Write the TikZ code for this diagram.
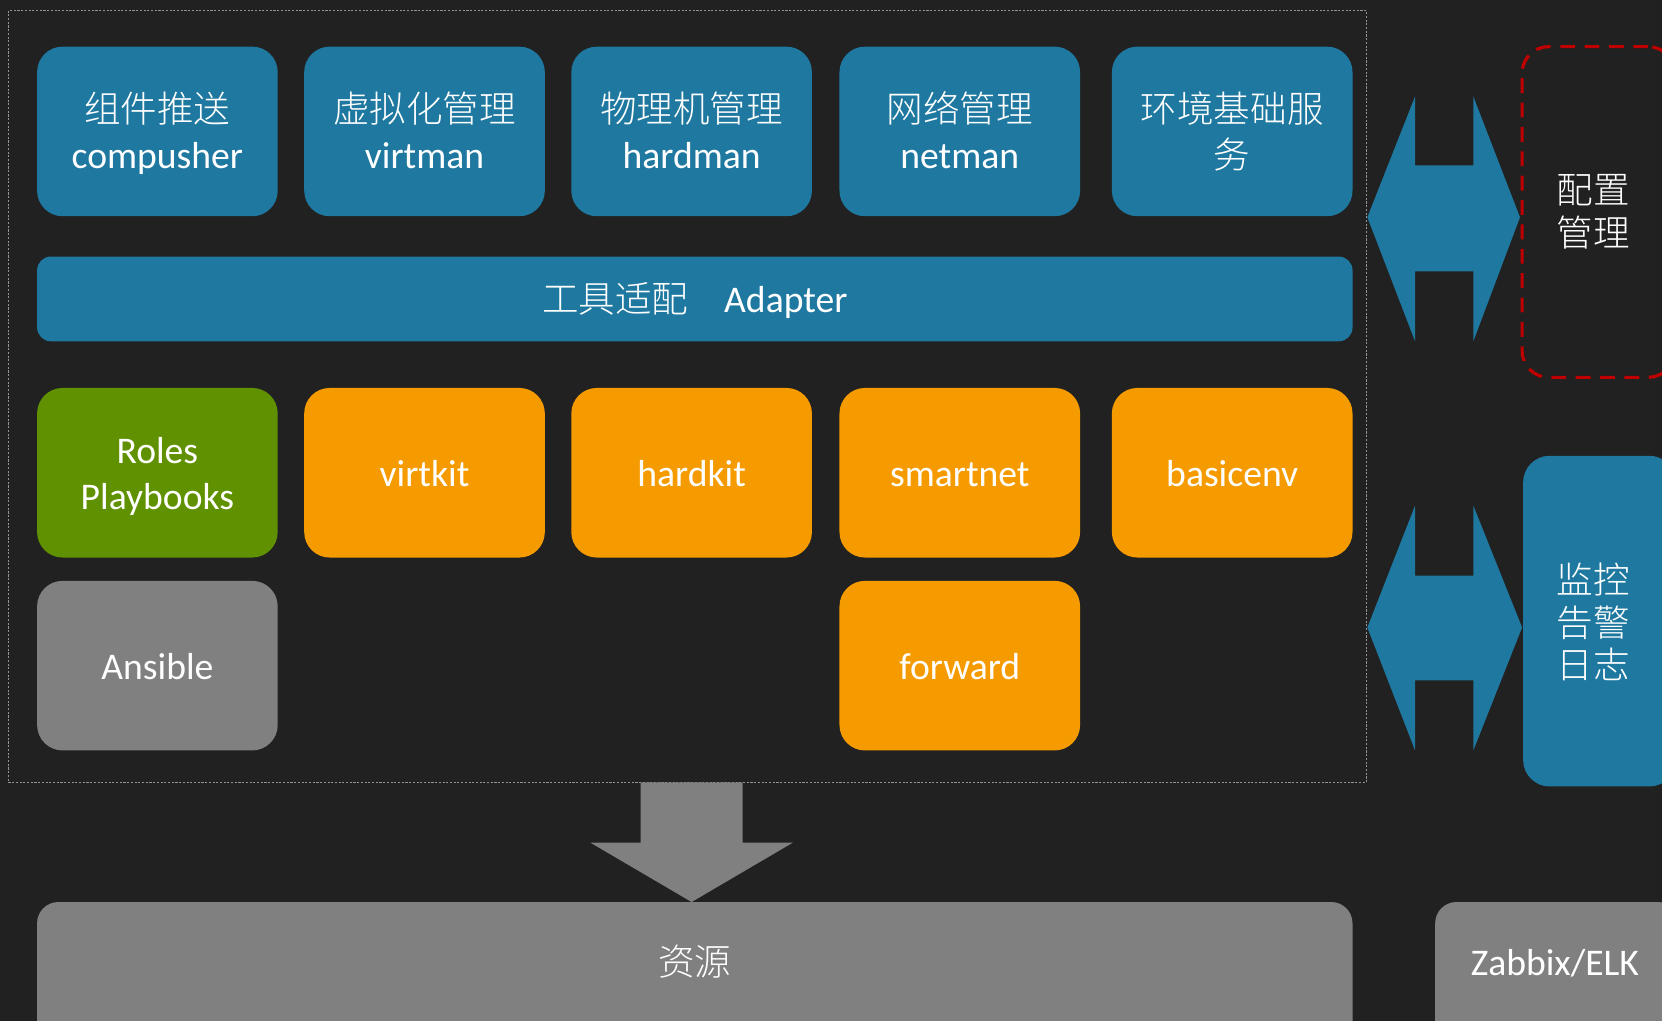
\documentclass[tikz,border=0pt]{standalone}
\usepackage{fontspec}
\setmainfont{Carlito}
\newfontfamily\cjk{Noto Sans CJK SC}[UprightFont={* Light}]
\definecolor{bg}{HTML}{212121}
\definecolor{blueA}{HTML}{1F78A0}
\definecolor{orangeA}{HTML}{F59B00}
\definecolor{greenA}{HTML}{5F9100}
\definecolor{grayA}{HTML}{808080}
\definecolor{redA}{HTML}{C00000}
\newcommand\mystrut{\rule[-8pt]{0pt}{42pt}}
\newcommand\zh[1]{{\fontsize{34.5}{43}\selectfont\cjk #1}}
\tikzset{
  card/.style={rounded corners=24, minimum width=227, minimum height=160, inner sep=0pt,
    text=white, align=center, font=\fontsize{35.5}{43}\selectfont},
  bluecard/.style={card, fill=blueA},
  orangecard/.style={card, fill=orangeA},
  greencard/.style={card, fill=greenA},
  graycard/.style={card, fill=grayA},
  zhtext/.style={text=white, align=center, inner sep=0pt, font=\fontsize{34.5}{40}\selectfont\cjk},
}
\begin{document}
\begin{tikzpicture}[x=1pt,y=-1pt]
\fill[bg] (0,0) rectangle (1568,963);
\useasboundingbox (0,0) rectangle (1568,963);
% outer dotted frame
\node[draw=gray!85, line width=1pt, dash pattern=on 2pt off 1.5pt, minimum width=1281, minimum height=728, inner sep=0pt] (frame) at (648.5,374) {};
% top row
\node[bluecard] (c1) at (148.5,124) {\mystrut\zh{组件推送}\\compusher\mystrut};
\node[bluecard] (c2) at (400.5,124) {\mystrut\zh{虚拟化管理}\\virtman\mystrut};
\node[bluecard] (c3) at (652.5,124) {\mystrut\zh{物理机管理}\\hardman\mystrut};
\node[bluecard] (c4) at (905.5,124) {\mystrut\zh{网络管理}\\netman\mystrut};
\node[bluecard] (c5) at (1162.5,124) {\mystrut\zh{环境基础服}\\\zh{务}\mystrut};
% adapter
\node[fill=blueA, rounded corners=13, minimum width=1241, minimum height=80, inner sep=0pt, text=white, font=\fontsize{35.5}{43}\selectfont] (adapter) at (655.5,282) {\mystrut\zh{工具适配}\hspace{0.95em}Adapter};
% row 2
\node[greencard] (roles) at (148.5,446) {\mystrut Roles\\Playbooks\mystrut};
\node[orangecard] (virtkit) at (400.5,446) {\mystrut virtkit};
\node[orangecard] (hardkit) at (652.5,446) {\mystrut hardkit};
\node[orangecard] (smartnet) at (905.5,446) {\mystrut smartnet};
\node[orangecard] (basicenv) at (1162.5,446) {\mystrut basicenv};
% row 3
\node[graycard] (ansible) at (148.5,628) {\mystrut Ansible};
\node[orangecard] (forward) at (905.5,628) {\mystrut forward};
% bottom
\node[fill=grayA, rounded corners=20, minimum width=1241, minimum height=150, inner sep=0pt] (res) at (655.5,926) {};
\node[zhtext] (restext) at (655.5,907) {资源};
\node[fill=grayA, rounded corners=20, minimum width=230, minimum height=150, inner sep=0pt] (zab) at (1469,926) {};
\node[text=white, font=\fontsize{35.5}{43}\selectfont] (zabtext) at (1467,909) {Zabbix/ELK};
% down arrow
\fill[grayA] (604.5,738) -- (700.5,738) -- (700.5,795) -- (748,795) -- (652.5,851) -- (557,795) -- (604.5,795) -- cycle;
% double arrows
\fill[blueA] (1290,205) -- (1335,91) -- (1335,156) -- (1390,156) -- (1390,91) -- (1434,205) -- (1390,322) -- (1390,256) -- (1335,256) -- (1335,322) -- cycle;
\fill[blueA] (1290,592) -- (1335,477) -- (1335,543) -- (1390,543) -- (1390,477) -- (1436,592) -- (1390,708) -- (1390,642) -- (1335,642) -- (1335,708) -- cycle;
% config management
\node[draw=redA, line width=3pt, dash pattern=on 14pt off 9pt, rounded corners=25, minimum width=144, minimum height=312, inner sep=0pt] (cfg) at (1508,200) {};
\node[zhtext] (cfgtext) at (1503,200) {配置\\管理};
% monitoring
\node[fill=blueA, rounded corners=25, minimum width=144, minimum height=312, inner sep=0pt] (mon) at (1509,586) {};
\node[zhtext] (montext) at (1503,587) {监控\\告警\\日志};
\end{tikzpicture}
\end{document}
